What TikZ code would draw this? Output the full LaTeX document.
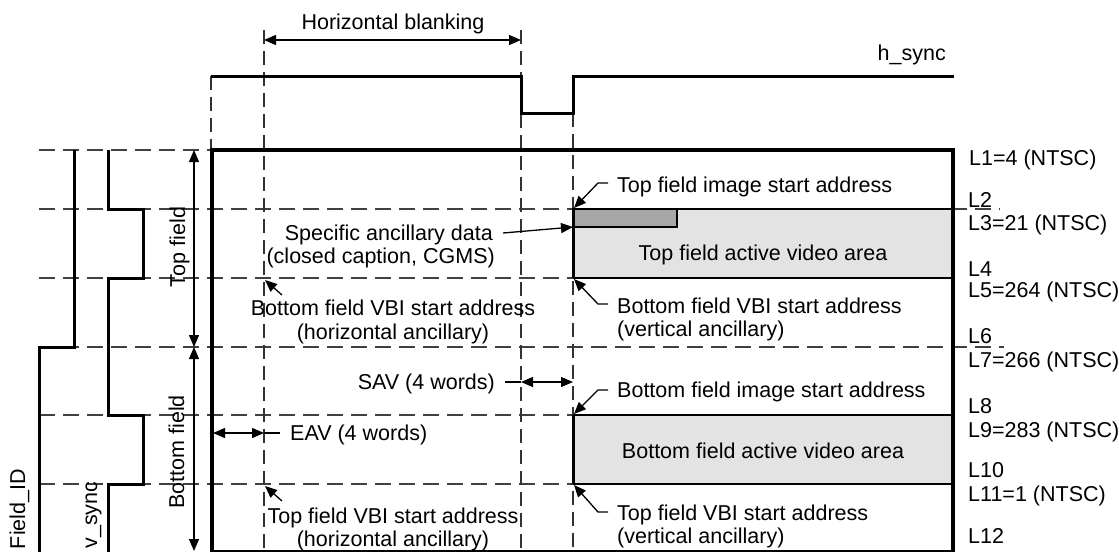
\documentclass[tikz,border=0pt]{standalone}
\usepackage{fontspec}
\setmainfont{Liberation Sans}
\usetikzlibrary{arrows.meta}
\begin{document}
\begin{tikzpicture}[x=1pt,y=-1pt,
  lab/.style={inner sep=0pt, font=\fontsize{21.5}{25}\selectfont},
  wave/.style={line width=3pt, line join=miter},
  hdash/.style={line width=1.2pt, black!75, dash pattern=on 16pt off 8pt},
  vdash/.style={line width=1.2pt, black!80, dash pattern=on 14pt off 7pt},
  conn/.style={line width=1.3pt},
  tipend/.style={-{Triangle[length=12pt,width=10pt]}},
  tipboth/.style={{Triangle[length=12pt,width=10pt]}-{Triangle[length=12pt,width=10pt]}},
  ltfill/.style={fill=black!11},
  dkfill/.style={fill=black!35},
]
\useasboundingbox (0,0) rectangle (1119,552);

% horizontal dashed lines
\draw[hdash] (39,150) -- (212,150);
\draw[hdash] (39,209) -- (1000,209);
\draw[hdash] (39,278) -- (953,278);
\draw[hdash] (39,347) -- (1004,347);
\draw[hdash] (39,415) -- (953,415);
\draw[hdash] (39,484) -- (953,484);

% vertical dashed lines
\draw[vdash] (211,76) -- (211,150);
\draw[vdash] (264,30) -- (264,552);
\draw[vdash] (521,30) -- (521,552);
\draw[vdash] (573,113) -- (573,552);

% active video areas
\fill[ltfill] (573,209) rectangle (953,278);
\filldraw[dkfill, line width=1.5pt] (573,209) rectangle (677,227);
\draw[line width=2pt] (573,209) -- (953,209) (573,278) -- (953,278);
\draw[line width=3pt] (573,209) -- (573,278);
\fill[ltfill] (573,415) rectangle (953,484);
\draw[line width=2pt] (573,415) -- (953,415) (573,484) -- (953,484);
\draw[line width=3pt] (573,415) -- (573,484);

% frame
\draw[line width=3.5pt] (212,552) -- (212,150) -- (953,150) -- (953,552);
\draw[line width=1.5pt] (212,551) -- (953,551);

% waveforms
\draw[wave] (211,76) -- (521,76) -- (521,113) -- (573,113) -- (573,76) -- (954,76);
\draw[wave] (74,150) -- (74,347) -- (39,347) -- (39,552);
\draw[wave] (108,150) -- (108,209) -- (143,209) -- (143,278) -- (108,278) -- (108,415) -- (143,415) -- (143,484) -- (108,484) -- (108,552);

% coordinates
\coordinate (hbL) at (264,40);
\coordinate (hbR) at (521,40);
\coordinate (tfT) at (194,150);
\coordinate (tfM) at (194,347);
\coordinate (tfB) at (194,551);
\coordinate (savA) at (505,382);
\coordinate (savB) at (521,382);
\coordinate (savC) at (573,382);
\coordinate (eavA) at (213,433);
\coordinate (eavB) at (264,433);
\coordinate (eavC) at (280,433);

% dimension arrows
\draw[conn,tipboth] (hbL) -- (hbR);
\draw[conn,tipboth] (tfT) -- (tfM);
\draw[conn,tipboth] (tfM) -- (tfB);
\draw[conn] (savA) -- (savB);
\draw[conn,tipboth] (savB) -- (savC);
\draw[conn,tipboth] (eavA) -- (eavB);
\draw[conn] (eavB) -- (eavC);

% labels
\node[lab, anchor=base] (hblank) at (393,29) {Horizontal blanking};
\node[lab, anchor=base east] (hsync) at (946,60) {h\_sync};
\node[lab, anchor=base, rotate=90] (topfield) at (185,247) {Top field};
\node[lab, anchor=base, rotate=90] (botfield) at (184,452) {Bottom field};
\node[lab, anchor=base, rotate=90] (fieldid) at (25,509) {Field\_ID};
\node[lab, anchor=base, rotate=90] (vsync) at (97,515) {v\_sync};

\node[lab, anchor=base west] (l1) at (969,165) {L1=4 (NTSC)};
\node[lab, anchor=base west] (l2) at (968,207) {L2};
\node[lab, anchor=base west] (l3) at (968,230) {L3=21 (NTSC)};
\node[lab, anchor=base west] (l4) at (968,276) {L4};
\node[lab, anchor=base west] (l5) at (968,297) {L5=264 (NTSC)};
\node[lab, anchor=base west] (l6) at (968,343) {L6};
\node[lab, anchor=base west] (l7) at (968,367) {L7=266 (NTSC)};
\node[lab, anchor=base west] (l8) at (968,413) {L8};
\node[lab, anchor=base west] (l9) at (968,437) {L9=283 (NTSC)};
\node[lab, anchor=base west] (l10) at (968,477) {L10};
\node[lab, anchor=base west] (l11) at (968,501) {L11=1 (NTSC)};
\node[lab, anchor=base west] (l12) at (968,543) {L12};

\node[lab, anchor=base] (tfarea) at (763,260) {Top field active video area};
\node[lab, anchor=base] (bfarea) at (763,458) {Bottom field active video area};

\node[lab, anchor=base west] (tfisa) at (617,192) {Top field image start address};
\node[lab, anchor=base east] (spec1) at (493,240) {Specific ancillary data};
\node[lab, anchor=base east] (spec2) at (495,263) {(closed caption, CGMS)};
\node[lab, anchor=base] (bfvh1) at (393,315) {Bottom field VBI start address};
\node[lab, anchor=base] (bfvh2) at (393,339) {(horizontal ancillary)};
\node[lab, anchor=base west] (bfvv1) at (617,313) {Bottom field VBI start address};
\node[lab, anchor=base west] (bfvv2) at (617,336) {(vertical ancillary)};
\node[lab, anchor=base east] (sav) at (495,389) {SAV (4 words)};
\node[lab, anchor=base west] (bfisa) at (617,397) {Bottom field image start address};
\node[lab, anchor=base west] (eav) at (290,440) {EAV (4 words)};
\node[lab, anchor=base] (tfvh1) at (393,523) {Top field VBI start address};
\node[lab, anchor=base] (tfvh2) at (393,546) {(horizontal ancillary)};
\node[lab, anchor=base west] (tfvv1) at (617,520) {Top field VBI start address};
\node[lab, anchor=base west] (tfvv2) at (617,543) {(vertical ancillary)};

% pointer arrows
\coordinate (p1a) at (608,183); \coordinate (p1b) at (598,183); \coordinate (p1c) at (574,208);
\coordinate (p2a) at (503,233); \coordinate (p2c) at (573,227);
\coordinate (p3a) at (282,295); \coordinate (p3c) at (265,280);
\coordinate (p4a) at (608,304); \coordinate (p4b) at (598,304); \coordinate (p4c) at (574,279);
\coordinate (p5a) at (608,390); \coordinate (p5b) at (598,390); \coordinate (p5c) at (574,414);
\coordinate (p6a) at (282,501); \coordinate (p6c) at (265,486);
\coordinate (p7a) at (608,512); \coordinate (p7b) at (598,512); \coordinate (p7c) at (574,485);
\draw[conn,tipend] (p1a) -- (p1b) -- (p1c);
\draw[conn,tipend] (p2a) -- (p2c);
\draw[conn,tipend] (p3a) -- (p3c);
\draw[conn,tipend] (p4a) -- (p4b) -- (p4c);
\draw[conn,tipend] (p5a) -- (p5b) -- (p5c);
\draw[conn,tipend] (p6a) -- (p6c);
\draw[conn,tipend] (p7a) -- (p7b) -- (p7c);
\end{tikzpicture}
\end{document}
